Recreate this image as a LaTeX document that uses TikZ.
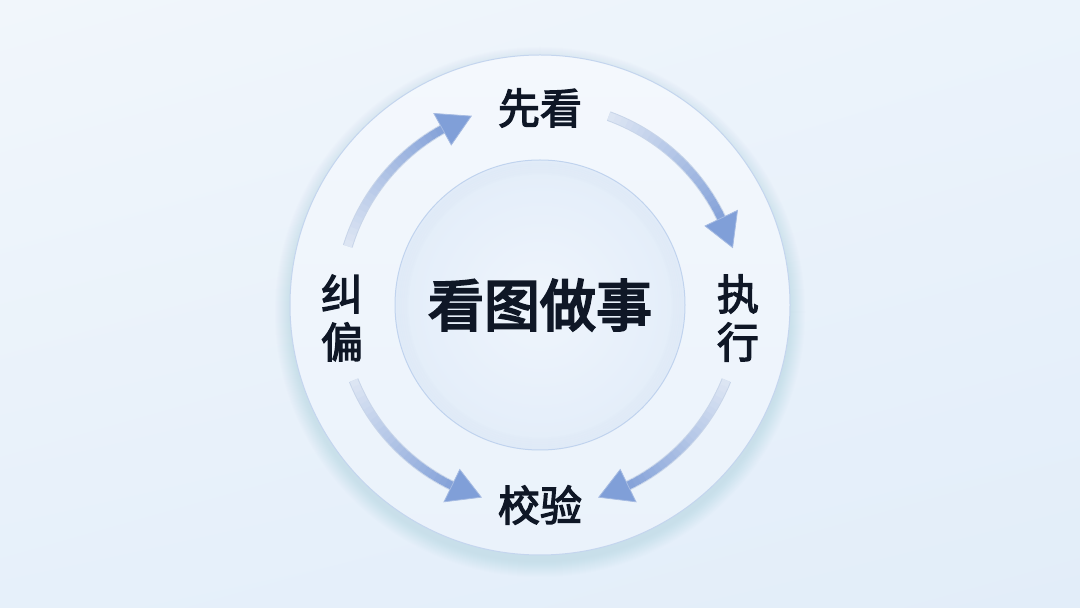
\documentclass[tikz,border=0pt]{standalone}
\usepackage{fontspec}
\newfontfamily\cjk[FakeBold=3]{Noto Sans CJK SC}
\newfontfamily\cjkt[FakeBold=4]{Noto Sans CJK SC}
\usetikzlibrary{calc,shadings}
\definecolor{bgUL}{HTML}{F1F6FB}
\definecolor{bgUR}{HTML}{EBF3FB}
\definecolor{bgLL}{HTML}{E6F0FA}
\definecolor{bgLR}{HTML}{E2EDF9}
\definecolor{shadowc}{HTML}{8DB0E6}
\definecolor{ringTop}{HTML}{F4F8FD}
\definecolor{ringBot}{HTML}{EAF2FB}
\definecolor{ringEdge}{HTML}{C4D5EE}
\definecolor{innerC}{HTML}{EFF5FC}
\definecolor{innerE}{HTML}{E3EDF9}
\definecolor{innerEdge}{HTML}{C0D3EE}
\definecolor{arrStart}{HTML}{DCE5F3}
\definecolor{arrEnd}{HTML}{86A3D9}
\definecolor{arrEdge}{HTML}{C8D5E9}
\definecolor{arrHead}{HTML}{809FD8}
\definecolor{arrHeadEdge}{HTML}{A6BBE2}
\definecolor{txt}{HTML}{0F1726}
\newcommand\ringarrow[2]{%
  \pgfmathsetmacro\ra{#1}%
  \pgfmathsetmacro\rb{#2}%
  \pgfmathsetmacro\sgn{(#2>#1)?1:-1}%
  \pgfmathsetmacro\rh{#2-\sgn*9}%
  \draw[line width=10pt, arrEdge, shift={(C)}] (\ra:201) arc[start angle=\ra, end angle=\rh, radius=201];
  \foreach \i in {0,...,23}{%
    \pgfmathsetmacro\ta{\ra+(\rh-\ra)*\i/24}%
    \pgfmathsetmacro\tb{\ra+(\rh-\ra)*(\i+1)/24+\sgn*0.4}%
    \pgfmathtruncatemacro\pc{100*\i/23}%
    \draw[line width=8pt, color=arrEnd!\pc!arrStart, shift={(C)}] (\ta:201) arc[start angle=\ta, end angle=\tb, radius=201];
  }
  \filldraw[fill=arrHead, draw=arrHeadEdge, line width=0.8pt, line join=miter] ($(C)+(\rb:201)$) -- ($(C)+(\rh:183)$) -- ($(C)+(\rh:219)$) -- cycle;
}
\tikzset{
  lbl/.style={font=\cjk\fontsize{42}{48}\selectfont, text=txt, align=center, inner sep=0pt},
  title/.style={font=\cjkt\fontsize{56}{60}\selectfont, text=txt, inner sep=0pt}
}
\begin{document}
\begin{tikzpicture}[x=1pt,y=1pt]
\useasboundingbox (0,0) rectangle (1080,608);
\shade[upper left=bgUL, upper right=bgUR, lower left=bgLL, lower right=bgLR] (0,0) rectangle (1080,608);
\coordinate (C) at (540,303);
% ring shadow
\foreach \k in {1,...,16}{
  \fill[shadowc, opacity=0.016] ($(C)+(0,-7)$) circle (249+\k);
}
% ring
\shade[top color=ringTop, bottom color=ringBot] (C) circle (250);
\draw[ringEdge, line width=1pt] (C) circle (250);
% inner disc
\shade[inner color=innerC, outer color=innerE] (C) circle (145);
\foreach \k in {0,...,5}{
  \draw[innerEdge, opacity=0.04, line width=3pt] ($(C)+(0,-1)$) circle (143-\k*2);
}
\draw[innerEdge, line width=1pt] (C) circle (145);
% arrows
\ringarrow{163}{110}
\ringarrow{70}{16.6}
\ringarrow{-22}{-73}
\ringarrow{-158}{-107}
% labels
\node[title] (center) at (C) {看图做事};
\node[lbl] (look) at ($(C)+(0,197)$) {先看};
\node[lbl] (exec) at ($(C)+(198,-13)$) {执\\行};
\node[lbl] (check) at ($(C)+(0,-200)$) {校验};
\node[lbl] (fix) at ($(C)+(-198,-13)$) {纠\\偏};
\end{tikzpicture}
\end{document}
